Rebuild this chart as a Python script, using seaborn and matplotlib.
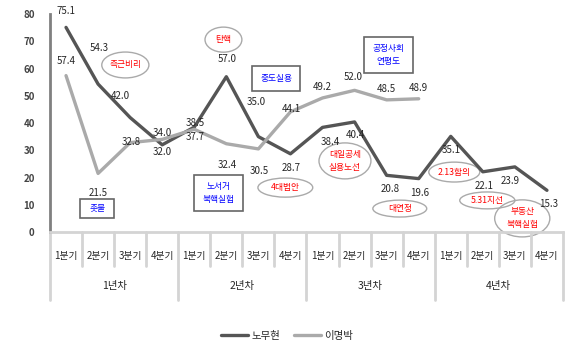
import pandas as pd
import matplotlib
matplotlib.use('Agg')
import matplotlib.pyplot as plt
import matplotlib.transforms as mtransforms
from matplotlib.patches import Ellipse, Rectangle
from matplotlib.lines import Line2D
import seaborn as sns

# data
quarters = ['1분기', '2분기', '3분기', '4분기'] * 4
years = ['1년차', '2년차', '3년차', '4년차']
roh = [75.1, 54.3, 42.0, 32.0, 38.5, 57.0, 35.0, 28.7,
       38.4, 40.4, 20.8, 19.6, 35.1, 22.1, 23.9, 15.3]
lee = [57.4, 21.5, 32.8, 34.0, 37.7, 32.4, 30.5, 44.1,
       49.2, 52.0, 48.5, 48.9]

# label offsets in pixels (dx, dy)
roh_off = [(0, 16), (1, 36), (-10, 22), (0, -7), (1, 4), (1, 18), (-2, 35), (1, -14),
           (8, -15), (1, -13), (4, -14), (1, -14), (0, -14), (1, -14), (-5, -14), (2, -14)]
lee_off = [(0, 15), (0, -20), (1, 1), (0, 6), (1, -8), (1, -21), (1, -22), (1, 3),
           (0, 11), (-1, 13), (0, 11), (0, 11)]

# events: (text, x, y, w, h)
roh_events = [('측근비리', 1.85, 61.3, 1.47, 9.5),
              ('탄핵', 4.91, 70.6, 1.15, 9.2),
              ('4대법안', 6.84, 16.3, 1.71, 7.0),
              ('대일공세\n실용노선', 8.70, 26.1, 1.62, 13.2),
              ('대연정', 10.41, 8.6, 1.68, 6.2),
              ('2.13합의', 12.11, 22.0, 1.59, 7.3),
              ('5.31지선', 13.14, 11.6, 1.72, 6.2),
              ('부동산\n북핵실험', 14.23, 5.0, 1.72, 13.6)]
lee_events = [('촛불', 0.97, 8.6, 1.06, 7.0),
              ('노서거\n북핵실험', 4.75, 14.3, 1.53, 13.2),
              ('중도실용', 6.55, 56.3, 1.50, 9.2),
              ('공정사회\n연평도', 10.06, 65.0, 1.53, 13.2)]

sns.set_style('white')
plt.rcParams['font.family'] = ['Noto Sans CJK KR', 'DejaVu Sans']

df = pd.DataFrame({
    'idx': list(range(len(roh))) + list(range(len(lee))),
    'val': roh + lee,
    'who': ['노무현'] * len(roh) + ['이명박'] * len(lee),
})

colors = {'노무현': '#555555', '이명박': '#aaaaaa'}

fig = plt.figure(figsize=(5.74, 3.51), dpi=100)
ax = fig.add_axes([0.0871, 0.339, 0.8937, 0.621])
sns.lineplot(data=df, x='idx', y='val', hue='who', palette=colors,
             linewidth=2.4, ax=ax, legend=False)

ax.set_xlim(-0.5, 15.5)
ax.set_ylim(0, 80)
ax.set_yticks(range(0, 81, 10))
ax.set_xlabel('')
ax.set_ylabel('')
ax.set_xticks(range(16))
ax.set_xticklabels(quarters, fontsize=7)
ax.tick_params(axis='x', length=0, pad=14)
ax.tick_params(axis='y', length=3, width=1.5, color='#808080', labelsize=7, pad=8)
for t in ax.get_yticklabels():
    t.set_fontweight('bold')
    t.set_color('#444444')

for s in ['top', 'right']:
    ax.spines[s].set_visible(False)
ax.spines['left'].set_color('#808080')
ax.spines['left'].set_linewidth(2)
ax.spines['bottom'].set_color('#d4d4d4')
ax.spines['bottom'].set_linewidth(2)

# category separators
trans = mtransforms.blended_transform_factory(ax.transData, ax.transAxes)
for i in range(17):
    y1 = -68 / 218 if i % 4 == 0 else -34 / 218
    ax.plot([i - 0.5, i - 0.5], [0, y1], transform=trans, color='#d4d4d4',
            lw=2, clip_on=False)
for k, y in enumerate(years):
    ax.text(4 * k + 1.5, -54 / 218, y, transform=trans, ha='center',
            va='center', fontsize=7.5)

# data labels
for i, v in enumerate(roh):
    ax.annotate(f'{v:.1f}', (i, v), xytext=roh_off[i], textcoords='offset pixels',
                ha='center', va='center', fontsize=7)
for i, v in enumerate(lee):
    ax.annotate(f'{v:.1f}', (i, v), xytext=lee_off[i], textcoords='offset pixels',
                ha='center', va='center', fontsize=7)

# event markers
for txt, x, y, w, h in roh_events:
    ax.add_patch(Ellipse((x, y), w, h, fill=False, edgecolor='#aaaaaa', lw=1, clip_on=False))
    ax.text(x, y, txt, ha='center', va='center', color='red', fontsize=6.3,
            linespacing=1.6)
for txt, x, y, w, h in lee_events:
    ax.add_patch(Rectangle((x - w / 2, y - h / 2), w, h, fill=False,
                           edgecolor='#666666', lw=1.2, clip_on=False))
    ax.text(x, y, txt, ha='center', va='center', color='blue', fontsize=6.3,
            linespacing=1.6)

handles = [Line2D([], [], color=colors[k], lw=2.4) for k in colors]
fig.legend(handles, list(colors), loc='center', bbox_to_anchor=(0.5, 0.043),
           ncol=2, frameon=False, fontsize=7.5, handlelength=2.6,
           handletextpad=0.3, columnspacing=1.3)

fig.savefig('out.png', dpi=100)
